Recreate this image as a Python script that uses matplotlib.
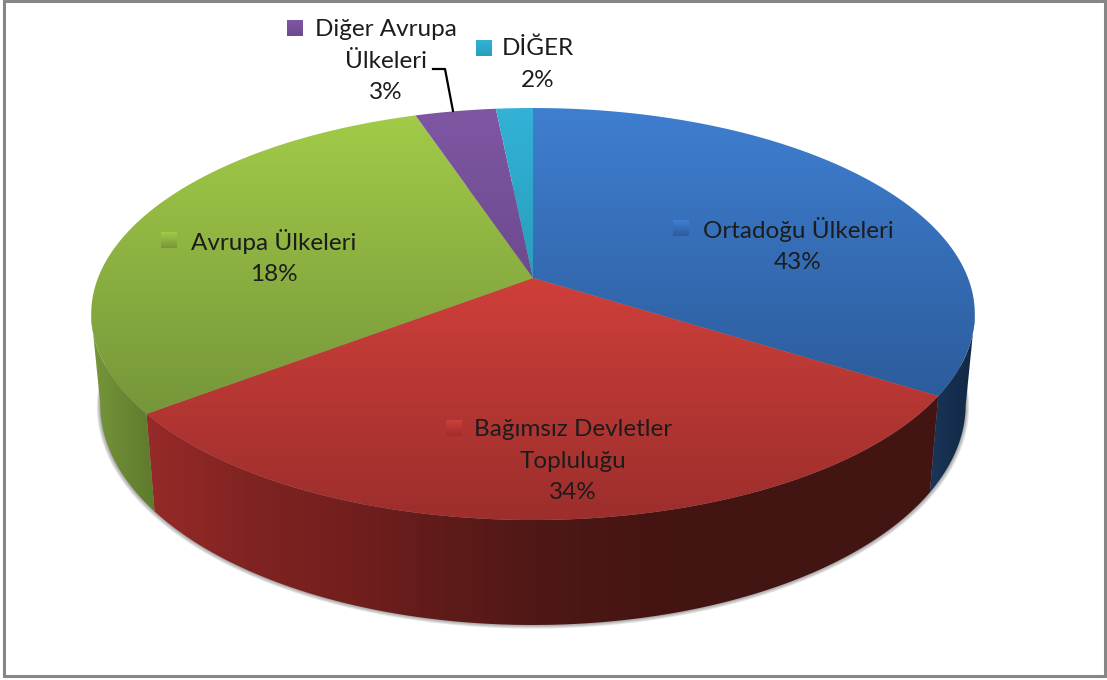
import numpy as np
import matplotlib
matplotlib.use('Agg')
import matplotlib.pyplot as plt
from matplotlib.colors import LinearSegmentedColormap
from matplotlib.patches import Polygon, Rectangle

plt.rcParams['font.family'] = ['Lato', 'DejaVu Sans']

# clockwise from 12 o'clock. drawn sizes differ from the printed labels in the source chart
names = ['Ortadoğu Ülkeleri', 'Bağımsız Devletler\nTopluluğu', 'Avrupa Ülkeleri', 'Diğer Avrupa\nÜlkeleri', 'DİĞER']
label_pct = [43, 34, 18, 3, 2]
drawn_share = [34.0, 30.6, 30.3, 3.5, 1.6]

# colours: top of slice (light to dark), wall (left to right)
top_cols = [['#3f7fd0', '#2c5c9c'], ['#cf3f3a', '#9c2e2c'], ['#a2cb48', '#76963a'], ['#7f56a2', '#6d4a90'], ['#32b2d6', '#2a9dbd']]
wall_cols = [['#1a3558', '#122844'],
             ['#962a28', '#802422', '#731f1e', '#5f1b19', '#4e1816', '#461512', '#421412', '#421412', '#421412'],
             ['#76963a', '#5e7a2c'], ['#5e3f7a', '#5e3f7a'], ['#2590a8', '#2590a8']]

# label placement in pixels
text_xy = [(798, 245), (573, 461), (274, 257), (386, 61), (538, 64)]
key_xy = [(673, 220), (446, 420), (161, 232), (287, 20), (476, 40)]
key_size = 16

W, H = 1107, 680
CX = 533
K = 0.1748  # perspective


def project(theta, a, b, y0):
    u, v = np.sin(theta), np.cos(theta)
    w = 1 + K * v
    return CX + a * u / w, y0 - b * v / w


def top_pts(theta):
    return project(theta, 435, 199.7, 278)


def bottom_pts(theta):
    return project(theta, 426, 213.7, 366)


def grad_fill(ax, poly, cols, box, horizontal=False, zorder=2):
    cmap = LinearSegmentedColormap.from_list('g', cols)
    t = np.linspace(0, 1, 256)
    img = t[None, :] if horizontal else t[:, None]
    im = ax.imshow(img, cmap=cmap, extent=box, aspect='auto', zorder=zorder, interpolation='bilinear')
    patch = Polygon(poly, closed=True, transform=ax.transData, fc='none', ec='none')
    ax.add_patch(patch)
    im.set_clip_path(patch)


fig = plt.figure(figsize=(W / 100, H / 100), dpi=100)
ax = fig.add_axes([0, 0, 1, 1])

# soft shadow under the wall
th = np.linspace(0, 2 * np.pi, 400)
bx, by = bottom_pts(th)
for i in range(5):
    s = 1 + 0.002 * i
    ax.add_patch(Polygon(np.c_[CX + (bx - CX) * s, 366 + (by - 366) * s + i * 0.4], fc='#444444', ec='none', alpha=0.13, zorder=1))

edges = np.r_[0, np.cumsum(drawn_share)] / np.sum(drawn_share) * 2 * np.pi

# walls, only the part facing the viewer, from the widest point of the disc down
for i in range(len(drawn_share)):
    t = np.linspace(edges[i], edges[i + 1], 300)
    t = t[np.cos(t) < -K]
    if len(t) < 2:
        continue
    tx, ty = top_pts(t)
    bx, by = bottom_pts(t)
    poly = np.r_[np.c_[tx, ty], np.c_[bx, by][::-1]]
    box = (poly[:, 0].min(), poly[:, 0].max(), 630, 300)
    grad_fill(ax, poly, wall_cols[i], box, horizontal=True, zorder=2)

# top face
for i in range(len(drawn_share)):
    t = np.linspace(edges[i], edges[i + 1], 300)
    tx, ty = top_pts(t)
    poly = np.r_[[(CX, 278)], np.c_[tx, ty]]
    box = (80, 985, poly[:, 1].max(), poly[:, 1].min())
    grad_fill(ax, poly, top_cols[i], box, zorder=3)

# leader line for the purple slice
ax.plot([433, 445, 453], [69, 69, 111], color='black', lw=1.6, zorder=4, solid_joinstyle='round')

# labels with their little colour keys
for i in range(len(names)):
    kx, ky = key_xy[i]
    grad_fill(ax, [(kx, ky), (kx + key_size, ky), (kx + key_size, ky + key_size), (kx, ky + key_size)],
              top_cols[i], (kx, kx + key_size, ky + key_size, ky), zorder=5)
    ax.text(text_xy[i][0], text_xy[i][1], names[i] + '\n%d%%' % label_pct[i], ha='center', va='center',
            fontsize=17.5, color='#1c1c1c', linespacing=1.62, zorder=6)

# outer frame
ax.add_patch(Rectangle((4, 1), 1101, 675, fc='none', ec='#868686', lw=2.2, zorder=7))

ax.set_xlim(0, W)
ax.set_ylim(H, 0)
ax.axis('off')
fig.savefig('out.png', dpi=100, facecolor='white')
